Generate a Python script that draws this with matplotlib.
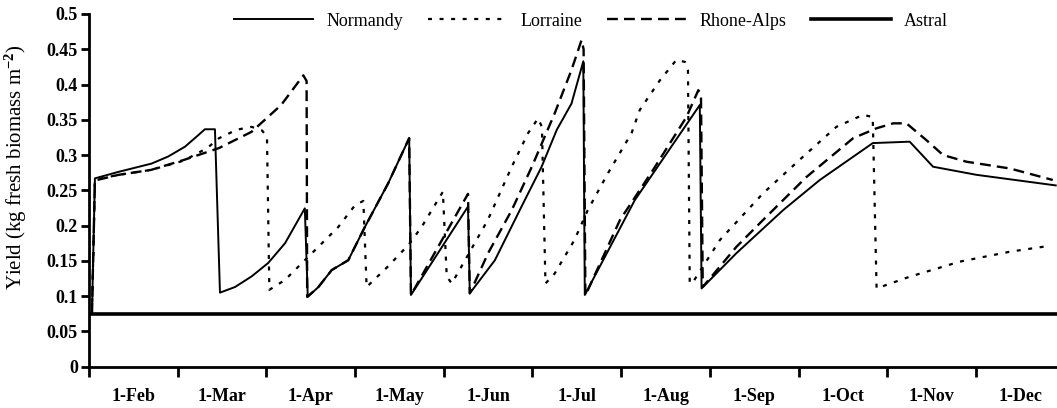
import matplotlib
matplotlib.use("Agg")
import matplotlib.pyplot as plt

# x = days from the first tick (each tick interval ~ one month)
normandy_x = [1.0, 2.0, 9.8, 21.2, 26.8, 32.5, 36.9, 39.2, 42.6, 44.3, 49.4, 55.0, 60.6,
              66.3, 73.0, 74.0, 77.6, 82.1, 87.7, 93.3, 101.2, 108.3, 108.9, 128.2, 128.8,
              137.3, 146.3, 153.1, 158.2, 163.2, 167.2, 167.7, 184.6, 206.6, 207.2, 219.0,
              234.8, 247.2, 258.5, 264.1, 265.1, 277.6, 285.5, 300.2, 327.0]
normandy_y = [0.075, 0.267, 0.276, 0.288, 0.298, 0.312, 0.328, 0.3366, 0.3366, 0.105, 0.113,
              0.128, 0.147, 0.175, 0.2245, 0.099, 0.113, 0.137, 0.151, 0.198, 0.260, 0.324,
              0.1017, 0.227, 0.104, 0.151, 0.227, 0.2835, 0.3356, 0.373, 0.433, 0.1017,
              0.236, 0.371, 0.111, 0.161, 0.222, 0.2647, 0.2977, 0.314, 0.317, 0.319,
              0.2835, 0.272, 0.257]

lorraine_x = [1.0, 2.0, 10.0, 21.0, 32.0, 40.0, 44.0, 50.0, 55.0, 58.5, 60.2, 61.0, 66.3,
              73.0, 77.6, 84.3, 90.0, 92.8, 93.9, 101.1, 108.0, 112.5, 119.7, 121.0, 122.7,
              127.2, 134.9, 143.0, 148.5, 151.9, 153.2, 154.4, 157.5, 164.2, 168.7, 175.5,
              183.5, 186.3, 193.1, 198.7, 201.6, 202.6, 203.2, 204.3, 213.4, 228.0, 241.6,
              252.8, 261.8, 265.1, 266.4, 277.6, 294.6, 311.5, 324.3]
lorraine_y = [0.075, 0.265, 0.272, 0.279, 0.292, 0.310, 0.324, 0.336, 0.340, 0.335, 0.326,
              0.109, 0.123, 0.151, 0.170, 0.198, 0.229, 0.235, 0.113, 0.142, 0.1725, 0.198,
              0.248, 0.128, 0.118, 0.151, 0.208, 0.2835, 0.331, 0.352, 0.340, 0.118, 0.132,
              0.1796, 0.222, 0.274, 0.331, 0.364, 0.406, 0.435, 0.432, 0.420, 0.118, 0.120,
              0.1796, 0.2458, 0.298, 0.340, 0.357, 0.354, 0.111, 0.1276, 0.149, 0.163, 0.171]

rhone_x = [1.0, 2.0, 10.0, 21.0, 32.0, 44.0, 55.0, 65.0, 72.5, 73.6, 73.8, 77.6, 82.1,
           87.7, 93.3, 101.2, 108.3, 108.9, 128.2, 128.8, 135.0, 143.0, 149.8, 157.5, 163.2,
           166.6, 167.3, 167.9, 179.6, 190.8, 202.1, 206.1, 207.0, 207.6, 219.0, 228.0,
           242.7, 258.5, 266.4, 272.0, 276.5, 283.3, 288.9, 296.8, 311.5, 326.0]
rhone_y = [0.075, 0.264, 0.272, 0.279, 0.293, 0.310, 0.333, 0.371, 0.413, 0.405, 0.099,
           0.113, 0.137, 0.151, 0.198, 0.260, 0.324, 0.1017, 0.245, 0.104, 0.161, 0.222,
           0.2835, 0.359, 0.4206, 0.463, 0.450, 0.101, 0.208, 0.279, 0.354, 0.392, 0.385,
           0.113, 0.170, 0.208, 0.269, 0.324, 0.338, 0.345, 0.345, 0.321, 0.300, 0.2906,
           0.281, 0.2647]

astral_x = [0.0, 330.0]
astral_y = [0.075, 0.075]

month_labels = ["1-Feb", "1-Mar", "1-Apr", "1-May", "1-Jun", "1-Jul", "1-Aug",
                "1-Sep", "1-Oct", "1-Nov", "1-Dec"]

FONT = "Liberation Serif"
plt.rcParams["font.family"] = FONT
plt.rcParams["font.weight"] = "bold"
plt.rcParams["mathtext.fontset"] = "custom"
plt.rcParams["mathtext.rm"] = FONT + ":bold"
plt.rcParams["mathtext.default"] = "rm"

fig = plt.figure(figsize=(10.57, 4.08), dpi=100)
ax = fig.add_axes([0.0842, 0.1012, 0.923, 0.8645])

ax.plot(normandy_x, normandy_y, color="black", lw=1.4, label="Normandy")
ax.plot(lorraine_x, lorraine_y, color="black", lw=1.6, dashes=(1.8, 3.4), label="Lorraine")
ax.plot(rhone_x, rhone_y, color="black", lw=1.7, dashes=(4.6, 2.6), label="Rhone-Alps")
ax.plot(astral_x, astral_y, color="black", lw=2.6, label="Astral")

ax.set_xlim(0, 330)
ax.set_ylim(0, 0.5)

ax.set_xticks(range(0, 331, 30))
ax.set_xticklabels([])
ax.set_xticks([15 + 30 * i for i in range(len(month_labels))], minor=True)
ax.set_xticklabels(month_labels, minor=True)
ax.tick_params(axis="x", which="major", length=7, width=2, direction="out")
ax.tick_params(axis="x", which="minor", length=0, pad=15, labelsize=13)

yt = [i * 0.05 for i in range(11)]
ax.set_yticks(yt)
ax.set_yticklabels(["0", "0.05", "0.1", "0.15", "0.2", "0.25", "0.3", "0.35",
                    "0.4", "0.45", "0.5"])
ax.tick_params(axis="y", length=6, width=2, direction="out", labelsize=13, pad=2)

for s in ("top", "right"):
    ax.spines[s].set_visible(False)
for s in ("left", "bottom"):
    ax.spines[s].set_linewidth(2)

ax.set_ylabel("Yield (kg fresh biomass m$^{-2}$)", fontsize=15)
ax.yaxis.set_label_coords(-0.061, 0.565)

leg = ax.legend(loc="center", bbox_to_anchor=(0.5145, 0.98), ncol=4, frameon=False,
                handlelength=4.4, handletextpad=0.75, columnspacing=1.35,
                prop={"family": FONT, "weight": "normal", "size": 13})

fig.savefig("out.png", dpi=100)
